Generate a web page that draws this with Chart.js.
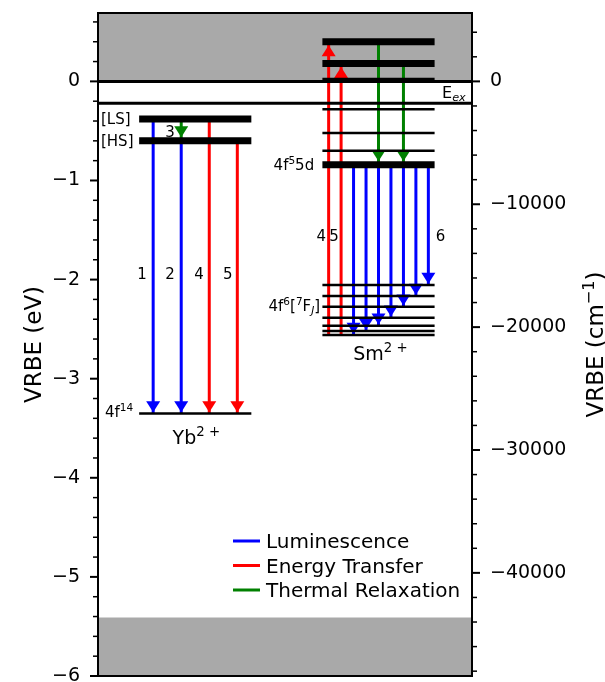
<!DOCTYPE html>
<html>
<head>
<meta charset="utf-8">
<script src="https://cdn.jsdelivr.net/npm/chart.js@4"></script>
<style>
  body { margin: 0; background: #fff; }
  canvas { display: block; }
</style>
</head>
<body>
<canvas id="vrbe" width="605" height="682"></canvas>
<script>
// energies in eV (VRBE), x positions in diagram units 0..10
const EV_TO_CM = 8065.54;
const yMin = -6, yMax = 0.69;

const cbBand = [0];          // conduction band starts here, shaded upwards
const vbBand = [-5.41];      // valence band top, shaded downwards
const refLevels = [0, -0.22]; // vacuum level and E_ex

const ybSpan = [1.1, 4.1];
const ybExcited = [-0.38, -0.60];   // [LS], [HS]
const ybGround = [-3.35];           // 4f14

const smSpan = [6, 9];
const smThick = [0.40, 0.18, -0.84];          // 4f5 5d levels
const smThin = [0.025, -0.28, -0.52, -0.70];
const smFJ = [-2.56, -2.52, -2.465, -2.385, -2.275, -2.165, -2.055]; // 7F0..7F6

// transitions: x, start, end, kind (0 lum, 1 energy transfer, 2 thermal)
const arrowX    = [1.475, 2.225, 2.225, 2.975, 3.725,
                   6.167, 6.5, 7.5, 8.167,
                   6.833, 7.167, 7.5, 7.833, 8.167, 8.5, 8.833];
const arrowFrom = [-0.38, -0.60, -0.38, -0.38, -0.60,
                   -2.56, -2.56, 0.40, 0.18,
                   -0.84, -0.84, -0.84, -0.84, -0.84, -0.84, -0.84];
const arrowTo   = [-3.35, -3.35, -0.60, -3.35, -3.35,
                   0.40, 0.18, -0.84, -0.84,
                   -2.56, -2.52, -2.465, -2.385, -2.275, -2.165, -2.055];
const arrowKind = [0, 0, 2, 1, 1,
                   1, 1, 2, 2,
                   0, 0, 0, 0, 0, 0, 0];

const kindNames = ['Luminescence', 'Energy Transfer', 'Thermal Relaxation'];
const kindColors = ['#0000ff', '#ff0000', '#008000'];

const yMajor = [-6, -5, -4, -3, -2, -1, 0];
const y2Major = [-40000, -30000, -20000, -10000, 0];

const THICK = 7, THIN = 2.5;
const thickSet = ybExcited.concat(smThick);

// text labels: parts, x, y, size, align
const notes = [
  [[{t: '[LS]'}], 0.08, -0.38, 15, 'left'],
  [[{t: '[HS]'}], 0.08, -0.60, 15, 'left'],
  [[{t: '4f'}, {t: '14', s: 1}], 0.94, -3.33, 15, 'right'],
  [[{t: '3'}], 1.925, -0.51, 15, 'center'],
  [[{t: '1'}], 1.18, -1.94, 15, 'center'],
  [[{t: '2'}], 1.925, -1.94, 15, 'center'],
  [[{t: '4'}], 2.70, -1.94, 15, 'center'],
  [[{t: '5'}], 3.47, -1.94, 15, 'center'],
  [[{t: '4'}], 5.97, -1.56, 15, 'center'],
  [[{t: '5'}], 6.31, -1.56, 15, 'center'],
  [[{t: '6'}], 9.16, -1.56, 15, 'center'],
  [[{t: '4f'}, {t: '5', s: 1}, {t: '5d'}], 5.78, -0.84, 15, 'right'],
  [[{t: '4f'}, {t: '6', s: 1}, {t: '['}, {t: '7', s: 1}, {t: 'F'}, {t: 'J', b: 1, i: 1}, {t: ']'}], 5.94, -2.26, 15, 'right'],
  [[{t: 'E'}, {t: 'ex', b: 1, i: 1}], 9.2, -0.11, 16, 'left'],
  [[{t: 'Yb'}, {t: '2 +', s: 1}], 2.63, -3.59, 19, 'center'],
  [[{t: 'Sm'}, {t: '2 +', s: 1}], 7.55, -2.74, 19, 'center']
];

function levelLine(x0, x1, y, w) {
  return {
    data: [{x: x0, y: y}, {x: x1, y: y}],
    borderColor: '#000',
    borderWidth: w,
    borderCapStyle: 'butt'
  };
}

const datasets = [];
refLevels.forEach(v => datasets.push(levelLine(0, 10, v, 3)));
ybExcited.forEach(v => datasets.push(levelLine(ybSpan[0], ybSpan[1], v, THICK)));
ybGround.forEach(v => datasets.push(levelLine(ybSpan[0], ybSpan[1], v, THIN)));
smThick.forEach(v => datasets.push(levelLine(smSpan[0], smSpan[1], v, THICK)));
smThin.forEach(v => datasets.push(levelLine(smSpan[0], smSpan[1], v, THIN)));
smFJ.forEach(v => datasets.push(levelLine(smSpan[0], smSpan[1], v, THIN)));

arrowX.forEach((x, i) => {
  datasets.push({
    data: [{x: x, y: arrowFrom[i]}, {x: x, y: arrowTo[i]}],
    borderColor: kindColors[arrowKind[i]],
    borderWidth: 3,
    borderCapStyle: 'butt',
    arrowHead: true
  });
});

// shaded bands
datasets.push({
  data: [{x: 0, y: cbBand[0]}, {x: 10, y: cbBand[0]}],
  borderWidth: 0, backgroundColor: '#a9a9a9', fill: 'end'
});
datasets.push({
  data: [{x: 0, y: vbBand[0]}, {x: 10, y: vbBand[0]}],
  borderWidth: 0, backgroundColor: '#a9a9a9', fill: 'start'
});

function drawRich(ctx, parts, x, y, size, align) {
  let w = 0;
  const segs = parts.map(p => {
    const sz = (p.s || p.b) ? size * 0.7 : size;
    const font = (p.i ? 'italic ' : '') + sz + 'px "DejaVu Sans"';
    ctx.font = font;
    const wd = ctx.measureText(p.t).width;
    w += wd;
    return {t: p.t, font: font, wd: wd, dy: p.s ? -size * 0.4 : (p.b ? size * 0.2 : 0)};
  });
  let cx = align === 'right' ? x - w : (align === 'center' ? x - w / 2 : x);
  const base = y + size * 0.36;
  ctx.textAlign = 'left';
  ctx.textBaseline = 'alphabetic';
  segs.forEach(sg => {
    ctx.font = sg.font;
    ctx.fillText(sg.t, cx, base + sg.dy);
    cx += sg.wd;
  });
}

const diagramPlugin = {
  id: 'diagram',
  afterDatasetDraw(chart, args) {
    const ds = chart.data.datasets[args.index];
    if (!ds.arrowHead) return;
    const ctx = chart.ctx;
    const xs = chart.scales.x, ys = chart.scales.y;
    const px = xs.getPixelForValue(ds.data[0].x);
    const p0 = ys.getPixelForValue(ds.data[0].y);
    const p1 = ys.getPixelForValue(ds.data[1].y);
    const dir = p1 > p0 ? 1 : -1;
    const gap = thickSet.includes(ds.data[1].y) ? THICK / 2 : THIN / 2;
    const tip = p1 - dir * gap;
    const len = 11, half = 7;
    ctx.save();
    ctx.fillStyle = ds.borderColor;
    ctx.beginPath();
    ctx.moveTo(px, tip);
    ctx.lineTo(px - half, tip - dir * len);
    ctx.lineTo(px + half, tip - dir * len);
    ctx.closePath();
    ctx.fill();
    ctx.restore();
  },
  afterDraw(chart) {
    const ctx = chart.ctx;
    const a = chart.chartArea;
    const xs = chart.scales.x, ys = chart.scales.y, y2 = chart.scales.y2;
    ctx.save();
    ctx.fillStyle = '#000';
    ctx.strokeStyle = '#000';

    // frame
    ctx.lineWidth = 2;
    ctx.strokeRect(a.left, a.top, a.right - a.left, a.bottom - a.top);

    // left ticks: major 1 eV, minor 0.2 eV
    for (let i = -30; i <= 3; i++) {
      const major = i % 5 === 0;
      const p = ys.getPixelForValue(i * 0.2);
      ctx.lineWidth = major ? 2 : 1.5;
      ctx.beginPath();
      ctx.moveTo(a.left, p);
      ctx.lineTo(a.left - (major ? 8 : 5), p);
      ctx.stroke();
    }
    // right ticks: major 10000 cm-1, minor 2000 cm-1
    for (let i = -24; i <= 2; i++) {
      const major = i % 5 === 0;
      const p = y2.getPixelForValue(i * 2000);
      ctx.lineWidth = major ? 2 : 1.5;
      ctx.beginPath();
      ctx.moveTo(a.right, p);
      ctx.lineTo(a.right + (major ? 8 : 5), p);
      ctx.stroke();
    }

    // level and transition labels
    notes.forEach(n => {
      drawRich(ctx, n[0], xs.getPixelForValue(n[1]), ys.getPixelForValue(n[2]), n[3], n[4]);
    });

    // axis titles
    const midY = (a.top + a.bottom) / 2;
    ctx.save();
    ctx.translate(33, midY);
    ctx.rotate(-Math.PI / 2);
    drawRich(ctx, [{t: 'VRBE (eV)'}], 0, 0, 23, 'center');
    ctx.restore();
    ctx.save();
    ctx.translate(595, midY);
    ctx.rotate(-Math.PI / 2);
    drawRich(ctx, [{t: 'VRBE (cm'}, {t: '\u22121', s: 1}, {t: ')'}], 0, 0, 23, 'center');
    ctx.restore();

    // legend
    kindNames.forEach((name, i) => {
      const ly = 541 + i * 24.5;
      ctx.strokeStyle = kindColors[i];
      ctx.lineWidth = 3;
      ctx.beginPath();
      ctx.moveTo(233, ly);
      ctx.lineTo(260, ly);
      ctx.stroke();
      ctx.fillStyle = '#000';
      drawRich(ctx, [{t: name}], 266, ly, 20, 'left');
    });
    ctx.restore();
  }
};

const minusFmt = v => String(v).replace('-', '\u2212');

new Chart(document.getElementById('vrbe'), {
  type: 'line',
  data: { datasets: datasets },
  plugins: [diagramPlugin],
  options: {
    responsive: false,
    animation: false,
    devicePixelRatio: 1,
    layout: { padding: { top: 13, bottom: 6, left: 0, right: 0 } },
    elements: { point: { radius: 0 }, line: { tension: 0 } },
    plugins: { legend: { display: false }, tooltip: { enabled: false } },
    scales: {
      x: { type: 'linear', min: 0, max: 10, display: false },
      y: {
        type: 'linear', position: 'left', min: yMin, max: yMax,
        grid: { display: false, drawTicks: false },
        border: { display: false },
        ticks: {
          padding: 18, color: '#000',
          font: { family: '"DejaVu Sans"', size: 19 },
          callback: minusFmt
        },
        afterBuildTicks: s => { s.ticks = yMajor.map(v => ({ value: v })); },
        afterFit: s => { s.width = 98; s.paddingTop = 0; s.paddingBottom = 0; }
      },
      y2: {
        type: 'linear', position: 'right',
        min: yMin * EV_TO_CM, max: yMax * EV_TO_CM,
        grid: { display: false, drawTicks: false },
        border: { display: false },
        ticks: {
          padding: 18, color: '#000',
          font: { family: '"DejaVu Sans"', size: 19 },
          callback: minusFmt
        },
        afterBuildTicks: s => { s.ticks = y2Major.map(v => ({ value: v })); },
        afterFit: s => { s.width = 133; s.paddingTop = 0; s.paddingBottom = 0; }
      }
    }
  }
});
</script>
</body>
</html>
